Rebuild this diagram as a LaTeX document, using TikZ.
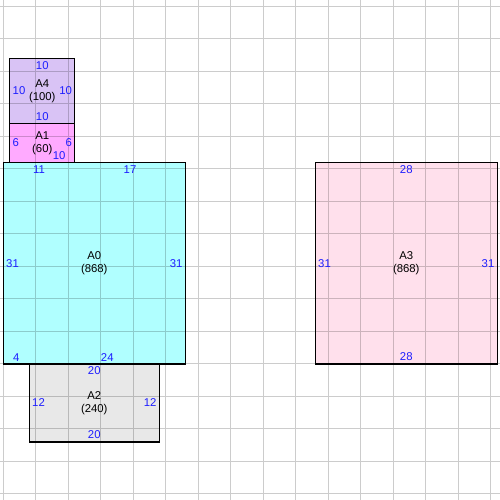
\documentclass[tikz,border=0pt]{standalone}
\usepackage{fontspec}
\setmainfont{Liberation Sans}
\definecolor{cyanroom}{RGB}{176,255,255}
\definecolor{pinkroom}{RGB}{255,170,255}
\definecolor{lilacroom}{RGB}{217,195,245}
\definecolor{greyroom}{RGB}{232,232,232}
\definecolor{roseroom}{RGB}{255,224,236}
\definecolor{dimblue}{RGB}{30,30,255}

\begin{document}
\begin{tikzpicture}[x=4.875pt,y=4.875pt,
  room/.style={draw=black, line width=1pt},
  dim/.style={text=dimblue, inner sep=2pt, font=\fontsize{8.5}{9.5}\selectfont},
  roomname/.style={align=center, inner sep=0pt, font=\fontsize{8.5}{9.5}\selectfont}]
\useasboundingbox (-0.508,-20.92) rectangle (76.42,56);
\fill [white] (-0.508,-20.92) rectangle (76.42,56);
% room fills
\fill [lilacroom] (1,37) rectangle (11,47);
\fill [pinkroom] (1,31) rectangle (11,37);
\fill [cyanroom] (0,0) rectangle (28,31);
\fill [greyroom] (4,-12) rectangle (24,0);
\fill [roseroom] (48,0) rectangle (76,31);
% grid over the fills
\draw [black, opacity=0.2, line width=0.75pt, step={(5,5)}] (-0.508,-20.92) grid (76.42,56);
% room borders
\draw [room] (1,37) rectangle (11,47);
\draw [room] (1,31) rectangle (11,37);
\draw [room] (0,0) rectangle (28,31);
\draw [room] (4,-12) rectangle (24,0);
\draw [room] (48,0) rectangle (76,31);
% A4
\node [roomname] (A4) at (6,42) {A4\\(100)};
\node [dim, anchor=north] (A4t) at (6,47) {10};
\node [dim, anchor=south] (A4b) at (6,37) {10};
\node [dim, anchor=west] (A4l) at (1,42) {10};
\node [dim, anchor=east] (A4r) at (11,42) {10};
% A1
\node [roomname] (A1) at (6,34) {A1\\(60)};
\node [dim, anchor=west] (A1l) at (1,34) {6};
\node [dim, anchor=east] (A1r) at (11,34) {6};
\node [dim, anchor=south] (A1b) at (8.6,31) {10};
% A0
\node [roomname] (A0) at (14,15.5) {A0\\(868)};
\node [dim, anchor=north] (A0t1) at (5.5,31) {11};
\node [dim, anchor=north] (A0t2) at (19.5,31) {17};
\node [dim, anchor=west] (A0l) at (0,15.5) {31};
\node [dim, anchor=east] (A0r) at (28,15.5) {31};
\node [dim, anchor=south] (A0b1) at (2,0) {4};
\node [dim, anchor=south] (A0b2) at (16,0) {24};
% A2
\node [roomname] (A2) at (14,-6) {A2\\(240)};
\node [dim, anchor=north] (A2t) at (14,0) {20};
\node [dim, anchor=south] (A2b) at (14,-12) {20};
\node [dim, anchor=west] (A2l) at (4,-6) {12};
\node [dim, anchor=east] (A2r) at (24,-6) {12};
% A3
\node [roomname] (A3) at (62,15.5) {A3\\(868)};
\node [dim, anchor=north] (A3t) at (62,31) {28};
\node [dim, anchor=south] (A3b) at (62,0) {28};
\node [dim, anchor=west] (A3l) at (48,15.5) {31};
\node [dim, anchor=east] (A3r) at (76,15.5) {31};
\end{tikzpicture}
\end{document}
